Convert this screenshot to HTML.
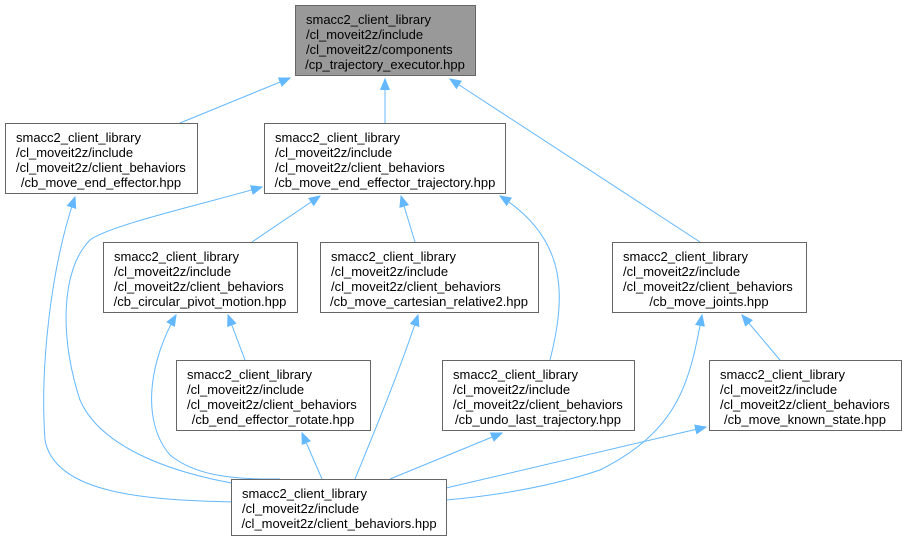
<!DOCTYPE html>
<html><head><meta charset="utf-8"><style>
html,body{margin:0;padding:0;background:#fff;}
svg{display:block;}
text{font-family:"Liberation Sans",Arial,sans-serif;font-size:13px;fill:#000;}
.b{fill:#fff;stroke:#666;stroke-width:1;}
.e{fill:none;stroke:#63b8ff;stroke-width:1;}
.a{fill:#63b8ff;stroke:#63b8ff;}
</style></head><body>
<svg width="907" height="541" viewBox="0 0 907 541" xmlns="http://www.w3.org/2000/svg">
<defs><marker id="m" markerWidth="12" markerHeight="10" refX="11" refY="5" orient="auto-start-reverse" markerUnits="userSpaceOnUse"><path d="M0,0.5 L11,5 L0,9.5 z" class="a"/></marker></defs>

<g class="e">
<path d="M290,78 L180,123" marker-start="url(#m)"/>
<path d="M385,79 L385,123" marker-start="url(#m)"/>
<path d="M450,79 L700,242" marker-start="url(#m)"/>
<path d="M320,196 L252,242" marker-start="url(#m)"/>
<path d="M401,196 L415,242" marker-start="url(#m)"/>
<path d="M500,196 C570,240 565,300 550,360" marker-start="url(#m)"/>
<path d="M262,187 C200,205 110,225 90,240 C60,270 60,340 80,400 C110,470 250,490 300,490" marker-start="url(#m)"/>
<path d="M75,197 C50,270 40,370 45,440 C55,495 150,500 235,502" marker-start="url(#m)"/>
<path d="M176,315 C150,360 140,420 170,455 C200,480 250,479 280,479" marker-start="url(#m)"/>
<path d="M418,315 C400,370 375,430 355,479" marker-start="url(#m)"/>
<path d="M228,315 L245,360" marker-start="url(#m)"/>
<path d="M302,433 L322,479" marker-start="url(#m)"/>
<path d="M502,433 L390,479" marker-start="url(#m)"/>
<path d="M706,427 L446,488" marker-start="url(#m)"/>
<path d="M702,315 C690,380 680,430 600,470 C540,490 480,497 446,500" marker-start="url(#m)"/>
<path d="M742,315 L780,360" marker-start="url(#m)"/>
</g>

<rect x="295.5" y="5.5" width="180" height="70" fill="#999" stroke="#666"/>
<text x="306" y="24">smacc2_client_library</text>
<text x="306" y="39">/cl_moveit2z/include</text>
<text x="306" y="54">/cl_moveit2z/components</text>
<text x="385" y="69" text-anchor="middle">/cp_trajectory_executor.hpp</text>

<rect class="b" x="5.5" y="123.5" width="192" height="70"/>
<text x="16" y="142">smacc2_client_library</text>
<text x="16" y="157">/cl_moveit2z/include</text>
<text x="16" y="172">/cl_moveit2z/client_behaviors</text>
<text x="101" y="187" text-anchor="middle">/cb_move_end_effector.hpp</text>

<rect class="b" x="264.5" y="123.5" width="241" height="70"/>
<text x="275" y="142">smacc2_client_library</text>
<text x="275" y="157">/cl_moveit2z/include</text>
<text x="275" y="172">/cl_moveit2z/client_behaviors</text>
<text x="385" y="187" text-anchor="middle">/cb_move_end_effector_trajectory.hpp</text>

<rect class="b" x="103.5" y="242.5" width="194" height="70"/>
<text x="114" y="261">smacc2_client_library</text>
<text x="114" y="276">/cl_moveit2z/include</text>
<text x="114" y="291">/cl_moveit2z/client_behaviors</text>
<text x="200" y="306" text-anchor="middle">/cb_circular_pivot_motion.hpp</text>

<rect class="b" x="320.5" y="242.5" width="218" height="70"/>
<text x="331" y="261">smacc2_client_library</text>
<text x="331" y="276">/cl_moveit2z/include</text>
<text x="331" y="291">/cl_moveit2z/client_behaviors</text>
<text x="429" y="306" text-anchor="middle">/cb_move_cartesian_relative2.hpp</text>

<rect class="b" x="612.5" y="242.5" width="194" height="70"/>
<text x="623" y="261">smacc2_client_library</text>
<text x="623" y="276">/cl_moveit2z/include</text>
<text x="623" y="291">/cl_moveit2z/client_behaviors</text>
<text x="709" y="306" text-anchor="middle">/cb_move_joints.hpp</text>

<rect class="b" x="176.5" y="360.5" width="194" height="70"/>
<text x="187" y="379">smacc2_client_library</text>
<text x="187" y="394">/cl_moveit2z/include</text>
<text x="187" y="409">/cl_moveit2z/client_behaviors</text>
<text x="273" y="424" text-anchor="middle">/cb_end_effector_rotate.hpp</text>

<rect class="b" x="442.5" y="360.5" width="192" height="70"/>
<text x="453" y="379">smacc2_client_library</text>
<text x="453" y="394">/cl_moveit2z/include</text>
<text x="453" y="409">/cl_moveit2z/client_behaviors</text>
<text x="538" y="424" text-anchor="middle">/cb_undo_last_trajectory.hpp</text>

<rect class="b" x="709.5" y="360.5" width="192" height="70"/>
<text x="720" y="379">smacc2_client_library</text>
<text x="720" y="394">/cl_moveit2z/include</text>
<text x="720" y="409">/cl_moveit2z/client_behaviors</text>
<text x="805" y="424" text-anchor="middle">/cb_move_known_state.hpp</text>

<rect class="b" x="231.5" y="479.5" width="215" height="56"/>
<text x="242" y="498">smacc2_client_library</text>
<text x="242" y="513">/cl_moveit2z/include</text>
<text x="339" y="528" text-anchor="middle">/cl_moveit2z/client_behaviors.hpp</text>
</svg>
</body></html>
